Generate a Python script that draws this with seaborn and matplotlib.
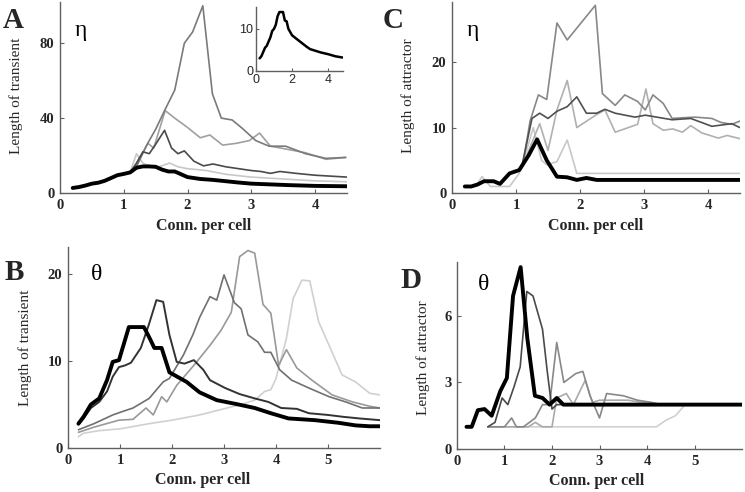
import warnings
warnings.filterwarnings("ignore")

import matplotlib
matplotlib.use("Agg")
import matplotlib.pyplot as plt
import seaborn as sns

sns.set_style("ticks")
plt.rcParams["font.family"] = ["Liberation Serif", "DejaVu Serif"]

# ---------------- Panel A (eta, transient) ----------------
a_black_x = [0.2, 0.3, 0.4, 0.5, 0.6, 0.7, 0.8, 0.9, 1.0, 1.1, 1.2, 1.3, 1.4, 1.5, 1.6, 1.7, 1.8,
             1.9, 2.0, 2.2, 2.4, 2.6, 2.8, 3.0, 3.3, 3.6, 4.0, 4.5]
a_black_y = [2.7, 3.2, 4.0, 5.0, 5.5, 6.5, 8.0, 9.5, 10.2, 11.0, 13.5, 14.2, 14.2, 14.0, 12.5, 11.5,
             11.5, 10.0, 8.5, 7.5, 7.0, 6.3, 5.6, 5.0, 4.6, 4.2, 3.8, 3.6]

a_early_x = [0.2, 0.3, 0.4, 0.5, 0.6, 0.7, 0.8, 0.9, 1.0, 1.1]
a_early_y = [2.7, 3.2, 4.0, 5.0, 5.5, 6.5, 8.0, 9.5, 10.2, 11.0]

a_dark_x = a_early_x + [1.2, 1.3, 1.4, 1.5, 1.64, 1.75, 1.85, 1.95, 2.1, 2.25, 2.4, 2.6, 2.8, 3.0,
                        3.15, 3.3, 3.45, 3.7, 4.0, 4.25, 4.5]
a_dark_y = a_early_y + [16, 22, 21, 26, 33.5, 24, 21, 22.5, 17, 14.5, 15.5, 14, 13, 12, 11.5, 10.5,
                        11.5, 10.5, 9.5, 9, 8.5]

a_tall_x = a_early_x + [1.2, 1.35, 1.5, 1.64, 1.8, 1.95, 2.08, 2.24, 2.39, 2.53, 2.7, 2.86, 3.07,
                        3.28, 3.54, 3.85, 4.17, 4.48]
a_tall_y = a_early_y + [14, 25, 34, 44, 55, 80, 86, 100, 53, 40, 39, 34.5, 28, 25, 25, 21, 18.5, 19]

a_mid_x = a_early_x + [1.2, 1.38, 1.47, 1.65, 1.8, 2.0, 2.2, 2.35, 2.55, 2.76, 2.97, 3.13, 3.3,
                       3.54, 3.85, 4.17, 4.48]
a_mid_y = a_early_y + [15, 26.5, 24, 44, 40, 35, 29.5, 31, 25.6, 26.5, 28, 32, 25, 23.5, 21.5, 18, 19]

a_light_x = a_early_x + [1.2, 1.3, 1.4, 1.55, 1.72, 1.85, 2.0, 2.3, 2.6, 3.0, 3.5, 4.0, 4.5]
a_light_y = a_early_y + [21, 16, 14.5, 14, 16, 14, 13, 12, 10, 8.5, 7.5, 6.5, 6]

inset_x = [0.2, 0.3, 0.4, 0.5, 0.6, 0.7, 0.8, 0.9, 1.0, 1.1, 1.2, 1.3, 1.5, 1.6, 1.7, 1.8, 2.0,
           2.2, 2.5, 2.8, 3.0, 3.3, 3.6, 4.0, 4.4, 4.8]
inset_y = [3, 3.5, 4.5, 5.5, 6, 7, 8, 9.5, 10, 11, 13, 14, 14, 12, 11.8, 10, 8.5, 7.8, 6.8, 5.8,
           5.2, 4.8, 4.4, 4.0, 3.5, 3.2]

# ---------------- Panel C (eta, attractor) ----------------
c_black_x = [0.2, 0.3, 0.4, 0.5, 0.65, 0.75, 0.9, 1.05, 1.2, 1.33, 1.48, 1.64, 1.8, 1.95, 2.1,
             2.26, 2.5, 3.0, 3.5, 4.0, 4.5]
c_black_y = [1, 1, 1.3, 1.8, 1.8, 1.4, 3, 3.5, 5.8, 8.2, 5, 2.5, 2.4, 2.0, 2.3, 2.0, 2, 2, 2, 2, 2]

c_early_x = [0.2, 0.3, 0.4, 0.5, 0.65, 0.75, 0.9, 1.05]
c_early_y = [1, 1, 1.3, 1.8, 1.8, 1.4, 3, 3.5]

c_tall_x = c_early_x + [1.1, 1.22, 1.35, 1.48, 1.64, 1.8, 2.24, 2.35, 2.55, 2.7, 2.9, 3.02, 3.14,
                        3.3, 3.44, 3.6, 3.8, 4.06, 4.2, 4.37, 4.5]
c_tall_y = c_early_y + [4, 11, 15, 14.3, 26, 23.4, 28.7, 15.2, 13.4, 15, 14, 12.7, 15, 13.7, 11.4,
                        11.5, 11.6, 11.4, 10.8, 10.5, 11]

c_dark_x = c_early_x + [1.1, 1.25, 1.37, 1.5, 1.64, 1.8, 1.95, 2.1, 2.26, 2.39, 2.55, 2.86, 3.02,
                        3.44, 3.73, 4.06, 4.37, 4.5]
c_dark_y = c_early_y + [4.5, 11.4, 12.2, 11.4, 12.5, 13.2, 14.7, 12.2, 12.2, 12.8, 12.2, 11.6,
                        11.9, 11.2, 11.4, 10.2, 10.6, 10]

c_light_x = c_early_x + [1.1, 1.22, 1.37, 1.5, 1.64, 1.8, 1.95, 2.26, 2.39, 2.55, 2.9, 3.03, 3.14,
                         3.3, 3.45, 3.6, 3.73, 3.9, 4.16, 4.3, 4.5]
c_light_y = c_early_y + [4, 7, 10.6, 6.5, 12.7, 17.2, 10, 12, 12.7, 9.3, 10.5, 15.9, 10.6, 9.6,
                         9.8, 9.3, 10.3, 9.2, 8.4, 8.8, 8.3]

c_pale_x = [0.2, 0.3, 0.4, 0.47, 0.6, 0.75, 0.9, 1.05, 1.15, 1.27, 1.4, 1.48, 1.64, 1.8, 1.95,
            2.1, 2.5, 3.0, 3.5, 4.0, 4.5]
c_pale_y = [1, 1, 1.5, 2.5, 1.0, 1.0, 1.0, 3.0, 6, 10, 5, 4.3, 4.8, 8.1, 3, 3, 3, 3, 3, 3, 3]

# ---------------- Panel B (theta, transient) ----------------
b_black_x = [0.2, 0.3, 0.44, 0.6, 0.75, 0.86, 0.98, 1.05, 1.17, 1.3, 1.46, 1.58, 1.66, 1.8, 1.95,
             2.1, 2.28, 2.53, 2.86, 3.2, 3.59, 3.9, 4.24, 4.75, 5.2, 5.53, 5.8, 6.0]
b_black_y = [2.8, 3.6, 5.0, 5.7, 7.8, 9.9, 10.1, 11.5, 13.9, 13.9, 13.9, 12.5, 11.5, 11.5, 8.7,
             8.2, 7.6, 6.4, 5.5, 5.1, 4.6, 4.0, 3.4, 3.2, 2.9, 2.6, 2.5, 2.5]

b_dark_x = [0.2, 0.3, 0.44, 0.6, 0.75, 0.86, 0.98, 1.1, 1.21, 1.4, 1.55, 1.7, 1.83, 1.95, 2.09,
            2.24, 2.42, 2.6, 2.73, 3.02, 3.3, 3.59, 3.85, 4.1, 4.4, 4.63, 5.0, 5.27, 5.6, 6.0]
b_dark_y = [2.7, 3.4, 4.6, 5.3, 6.5, 8.2, 9.3, 9.5, 9.8, 11.5, 14.1, 17.0, 16.8, 13, 9.9, 9.7,
            10.1, 9, 7.8, 6.9, 6.2, 5.7, 5.3, 4.6, 4.5, 4.0, 3.8, 3.6, 3.4, 3.2]

b_mid_x = [0.2, 0.5, 0.86, 1.05, 1.25, 1.56, 1.83, 1.95, 2.22, 2.4, 2.53, 2.73, 2.86, 3.0, 3.2,
           3.33, 3.46, 3.65, 3.78, 3.9, 4.07, 4.3, 4.63, 5.02, 5.34, 5.66, 6.0]
b_mid_y = [2.1, 2.8, 3.8, 4.2, 4.6, 5.7, 7.6, 8, 10.7, 13, 15, 17.4, 17, 19.9, 16.7, 16, 13, 12.2,
           11, 11, 9, 7.8, 6.9, 5.9, 5.3, 4.6, 4.6]

b_light_x = [0.2, 0.5, 0.98, 1.25, 1.5, 1.64, 1.8, 1.9, 2.09, 2.42, 2.73, 2.94, 3.14, 3.3, 3.46,
             3.59, 3.75, 3.9, 4.05, 4.2, 4.4, 4.69, 5.08, 5.47, 5.8, 6.0]
b_light_y = [1.8, 2.4, 3.2, 3.3, 4.6, 3.8, 5.9, 5.3, 7.2, 9.5, 11.8, 13.5, 15.6, 22, 22.7, 22.4,
             16.5, 15.5, 9.5, 11.3, 9.2, 7.8, 6.1, 5.3, 4.8, 4.6]

b_pale_x = [0.2, 0.3, 0.6, 1.0, 1.56, 2.0, 2.53, 3.06, 3.33, 3.59, 3.78, 3.9, 4.0, 4.2, 4.33, 4.5,
            4.65, 4.82, 5.02, 5.27, 5.53, 5.8, 6.0]
b_pale_y = [1.3, 1.7, 2.0, 2.2, 2.8, 3.2, 3.8, 4.6, 5, 5.5, 6.5, 6.7, 8, 12.6, 17.2, 19.3, 19.2,
            14.5, 11.8, 8.4, 7.6, 6.3, 6.1]

# ---------------- Panel D (theta, attractor) ----------------
d_black_x = [0.2, 0.31, 0.44, 0.58, 0.73, 0.91, 1.05, 1.18, 1.34, 1.48, 1.64, 1.8, 1.95, 2.1,
             2.24, 3.0, 4.0, 5.0, 6.0]
d_black_y = [1, 1, 1.75, 1.8, 1.5, 2.6, 3.2, 6.9, 8.2, 5.0, 2.4, 2.3, 2.0, 2.3, 2.0, 2, 2, 2, 2]

d_dark_x = [0.65, 0.8, 0.95, 1.07, 1.2, 1.33, 1.47, 1.6, 1.8, 1.9, 2.0, 2.1, 2.3, 3, 4, 5, 6]
d_dark_y = [1, 1.2, 2.3, 2.0, 2.8, 3.7, 7.1, 6.9, 5.4, 3.5, 1.8, 2.0, 2.0, 2, 2, 2, 2]

d_spike_x = [0.65, 1.0, 1.15, 1.25, 1.4, 1.65, 1.8, 1.95, 2.1, 2.25, 2.5, 2.65, 2.8, 3.0, 3.15,
             3.5, 3.8, 4.1, 4.3, 6.0]
d_spike_y = [1, 1, 1.4, 1, 1, 1.4, 2.0, 2.0, 4.8, 3.0, 3.4, 3.5, 2.4, 1.4, 2.5, 2.4, 2.2, 2.1,
             2.0, 2.0]

d_light_x = [0.65, 1.5, 1.65, 1.8, 2.0, 2.1, 2.3, 2.45, 2.7, 2.85, 3.0, 3.3, 3.6, 3.9, 4.2, 6.0]
d_light_y = [1, 1, 1.2, 1, 1, 2.3, 2.5, 2.0, 3.1, 2.1, 2.2, 2.2, 2.2, 2.1, 2.0, 2.0]

d_pale_x = [0.65, 1.0, 2.0, 3.0, 4.2, 4.4, 4.6, 4.8, 5.0, 6.0]
d_pale_y = [1, 1, 1, 1, 1, 1.3, 1.5, 2.0, 2, 2]

fig = plt.figure(figsize=(7.45, 4.92), dpi=100)

axA = fig.add_axes([0.0805, 0.6077, 0.3852, 0.3882])
axC = fig.add_axes([0.6067, 0.6077, 0.3866, 0.3882])
axB = fig.add_axes([0.0913, 0.0894, 0.4188, 0.4085])
axD = fig.add_axes([0.6134, 0.0874, 0.3826, 0.3801])
axI = fig.add_axes([0.3436, 0.8557, 0.1168, 0.1301])


def draw(ax, x, y, color, lw):
    sns.lineplot(x=x, y=y, ax=ax, color=color, lw=lw, sort=False, estimator=None)


thin = 1.2
# A
draw(axA, a_light_x, a_light_y, "#c8c8c8", thin)
draw(axA, a_mid_x, a_mid_y, "#a0a0a0", thin)
draw(axA, a_tall_x, a_tall_y, "#7a7a7a", thin)
draw(axA, a_dark_x, a_dark_y, "#4a4a4a", thin)
draw(axA, a_black_x, a_black_y, "black", 2.8)
# inset
draw(axI, inset_x, inset_y, "black", 1.8)
# C
draw(axC, c_pale_x, c_pale_y, "#c8c8c8", thin)
draw(axC, c_light_x, c_light_y, "#b0b0b0", thin)
draw(axC, c_tall_x, c_tall_y, "#888888", thin)
draw(axC, c_dark_x, c_dark_y, "#505050", thin)
draw(axC, c_black_x, c_black_y, "black", 2.8)
# B
draw(axB, b_pale_x, b_pale_y, "#d0d0d0", thin)
draw(axB, b_light_x, b_light_y, "#999999", thin)
draw(axB, b_mid_x, b_mid_y, "#707070", thin)
draw(axB, b_dark_x, b_dark_y, "#333333", 1.4)
draw(axB, b_black_x, b_black_y, "black", 2.8)
# D
draw(axD, d_pale_x, d_pale_y, "#d0d0d0", thin)
draw(axD, d_light_x, d_light_y, "#aaaaaa", thin)
draw(axD, d_spike_x, d_spike_y, "#888888", thin)
draw(axD, d_dark_x, d_dark_y, "#4a4a4a", thin)
draw(axD, d_black_x, d_black_y, "black", 2.8)

tick_font = dict(fontsize=10.5, fontweight="bold")
spine_col = "#606060"

panels = [
    (axA, (0, 4.5), (0, 102), [0, 1, 2, 3, 4], [0, 40, 80], "Length of transient", "η",
     (-0.13, 0.51), (0.5, -0.13), (0.05, 0.82)),
    (axC, (0, 4.5), (0, 29.2), [0, 1, 2, 3, 4], [0, 10, 20], "Length of attractor", "η",
     (-0.128, 0.51), (0.5, -0.13), (0.05, 0.82)),
    (axB, (0, 6.0), (0, 23.1), [0, 1, 2, 3, 4, 5], [0, 10, 20], "Length of transient", "θ",
     (-0.115, 0.5), (0.43, -0.12), (0.072, 0.835)),
    (axD, (0, 6.0), (0, 8.43), [0, 1, 2, 3, 4, 5], [0, 3, 6], "Length of attractor", "θ",
     (-0.095, 0.49), (0.49, -0.128), (0.072, 0.85)),
]

for ax, xl, yl, xt, yt, ylab, sym, ylc, xlc, spos in panels:
    ax.set_xlim(*xl)
    ax.set_ylim(*yl)
    ax.set_xticks(xt)
    ax.set_yticks(yt)
    ax.set_xticklabels([str(t) for t in xt], **tick_font)
    ax.set_yticklabels([str(t) for t in yt], **tick_font)
    ax.set_ylabel(ylab, fontsize=11)
    ax.set_xlabel("Conn. per cell", fontsize=11.5, fontweight="bold")
    ax.yaxis.set_label_coords(*ylc)
    ax.xaxis.set_label_coords(*xlc)
    ax.text(spos[0], spos[1], sym, transform=ax.transAxes, fontsize=17, color="black",
            va="baseline")
    sns.despine(ax=ax)
    for s in ["left", "bottom"]:
        ax.spines[s].set_color(spine_col)
        ax.spines[s].set_linewidth(1.0)
    ax.tick_params(direction="in", length=3, width=0.8, color=spine_col, pad=4)

fig.text(0.004, 0.943, "A", fontsize=21, fontweight="bold", va="baseline")
fig.text(0.513, 0.943, "C", fontsize=21, fontweight="bold", va="baseline")
fig.text(0.006, 0.431, "B", fontsize=21, fontweight="bold", va="baseline")
fig.text(0.537, 0.415, "D", fontsize=21, fontweight="bold", va="baseline")

# inset axes
axI.set_xlim(0, 4.83)
axI.set_ylim(0, 15.2)
axI.set_xticks([0, 2, 4])
axI.set_yticks([0, 10])
axI.set_xticklabels(["0", "2", "4"], fontsize=9, family="Liberation Sans")
axI.set_yticklabels(["0", "10"], fontsize=9, family="Liberation Sans")
axI.set_xlabel("")
axI.set_ylabel("")
axI.patch.set_alpha(0)
sns.despine(ax=axI)
for s in ["left", "bottom"]:
    axI.spines[s].set_color(spine_col)
    axI.spines[s].set_linewidth(1.0)
axI.tick_params(direction="in", length=2.5, width=0.8, color=spine_col, pad=2)

fig.savefig("out.png", dpi=100)
